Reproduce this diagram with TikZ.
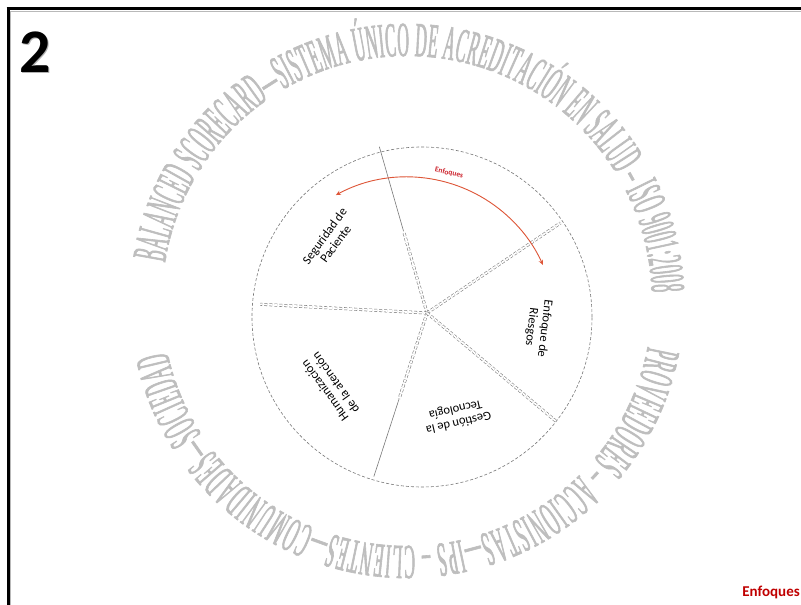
\documentclass[tikz,border=0pt]{standalone}
\usepackage{fontspec}
\setmainfont{Carlito}
\newfontfamily\wmfont[FakeStretch=0.33,FakeBold=1.2]{Liberation Serif}
\usetikzlibrary{decorations.text,arrows.meta}
\definecolor{wm}{RGB}{190,190,190}
\definecolor{rim}{RGB}{120,120,120}
\definecolor{arcred}{RGB}{222,85,55}
\definecolor{lblred}{RGB}{205,35,45}
\definecolor{enfred}{RGB}{192,0,0}
\begin{document}
\begin{tikzpicture}[x=1pt,y=1pt,
  rimline/.style={draw=rim, line width=0.6pt, dash pattern=on 3pt off 2pt},
  spokeline/.style={draw=rim, line width=0.55pt, double=white, double distance=1.8pt, dash pattern=on 3pt off 2pt},
  solidspoke/.style={draw=rim, line width=0.6pt},
  sector/.style={font=\fontsize{12.5}{13.5}\selectfont, align=center, text=black, inner sep=0pt},
  wmtext/.style={decorate, decoration={text along path, text color=wm, text align={fit to path}, text={|\wmfont\fontsize{49}{49}\selectfont|#1}}},
  arrowarc/.style={draw=arcred, line width=0.9pt, {Stealth[length=5pt,width=4.5pt]}-{Stealth[length=5pt,width=4.5pt]}}
]
\useasboundingbox (0,0) rectangle (801,605);
\fill[white] (0,0) rectangle (801,605);
% frame
\draw[gray!55, line width=1pt] (10.5,593.5) -- (801,593.5);
\draw[gray!55, line width=1pt] (10.5,593.5) -- (10.5,0);
\draw[black, line width=3pt] (6.5,596) -- (801,596);
\draw[black, line width=3pt] (8,597.5) -- (8,0);
% number
\node[font=\fontsize{62}{62}\bfseries, text=gray!60, inner sep=0pt] (numshadow) at (36.5,551.5) {2};
\node[font=\fontsize{62}{62}\bfseries, text=black, inner sep=0pt] (num) at (35,553) {2};
% watermark text
\coordinate (wc) at (407,304);
\path[wmtext={BALANCED SCORECARD—SISTEMA ÚNICO DE ACREDITACIÓN EN SALUD – ISO 9001:2008}]
  (wc) ++(171:245) arc[start angle=171, end angle=2, radius=245];
\path[wmtext={PROVEEDORES – ACCIONISTAS—IPS – CLIENTES—COMUNIDADES—SOCIEDAD}]
  (wc) ++(-10.7:245) arc[start angle=-10.7, end angle=-168, radius=245];
% pie
\coordinate (cc) at (422,288);
\draw[rimline] (cc) circle[radius=170];
\coordinate (hub) at (427,292);
\path (hub) ++(34:161) coordinate (e1);
\path (hub) ++(106:173) coordinate (e2);
\path (hub) ++(106:85) coordinate (m2);
\path (hub) ++(177:167) coordinate (e3);
\path (hub) ++(252:172) coordinate (e4);
\path (hub) ++(252:90) coordinate (m4);
\path (hub) ++(320:168) coordinate (e5);
\draw[spokeline] (hub) -- (e1);
\draw[spokeline] (hub) -- (m2);
\draw[solidspoke] (m2) -- (e2);
\draw[spokeline] (hub) -- (e3);
\draw[spokeline] (hub) -- (m4);
\draw[solidspoke] (m4) -- (e4);
\draw[spokeline] (hub) -- (e5);
% sector labels
\node[sector, rotate=54] (seg) at (330,365) {Seguridad de\\Paciente};
\node[sector, rotate=-97] (rie) at (538,277) {Enfoque de\\Riesgos};
\node[sector, rotate=126] (hum) at (330,218) {Humanización\\de la atención};
\node[sector, rotate=193] (tec) at (457,189) {Gestión de la\\Tecnología};
% red arc
\coordinate (ac) at (407,279);
\path (ac) ++(118.5:149) coordinate (aL);
\draw[arrowarc] (aL) arc[start angle=118.5, end angle=24.2, radius=149];
\node[font=\fontsize{7.5}{8}\selectfont\bfseries, text=lblred, rotate=-12, inner sep=0pt] (enf) at (449,432) {Enfoques};
% footer label
\node[font=\fontsize{15}{16}\selectfont\bfseries, text=enfred, inner sep=0pt, anchor=east] (foot) at (800,13) {Enfoques};
\end{tikzpicture}
\end{document}
